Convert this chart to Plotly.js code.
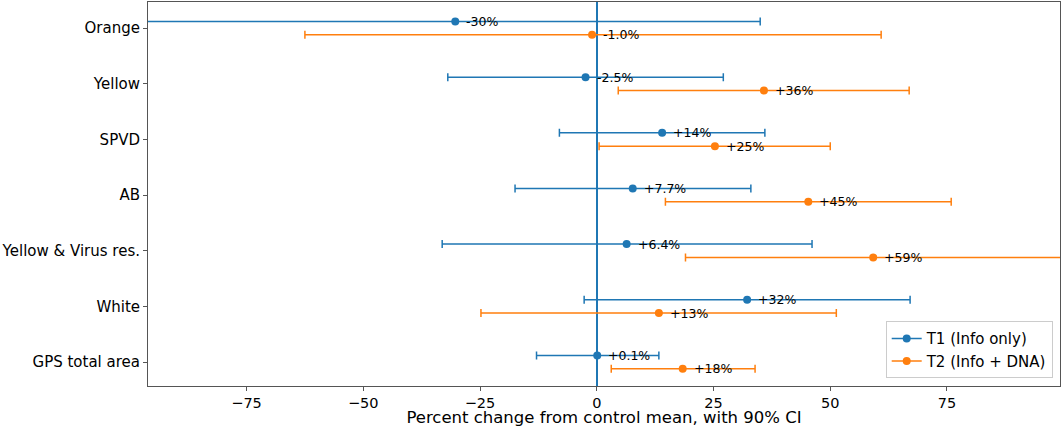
<!DOCTYPE html>
<html>
<head>
<meta charset="utf-8">
<script src="https://cdn.plot.ly/plotly-3.0.1.min.js"></script>
<style>html,body{margin:0;padding:0;background:#fff;}#chart{width:1062px;height:427px;}</style>
</head>
<body>
<div id="chart"></div>
<script>
// Categories, top to bottom
const categories = ["Orange", "Yellow", "SPVD", "AB", "Yellow & Virus res.", "White", "GPS total area"];

// T1 (Info only)
const t1Value = [-30.3, -2.4, 14.0, 7.7, 6.4, 32.2, 0.1];
const t1Lower = [-100, -31.9, -8.0, -17.5, -33.1, -2.7, -12.9];
const t1Upper = [35.0, 27.1, 36.0, 33.0, 46.1, 67.1, 13.3];
const t1Labels = ["-30%", "-2.5%", "+14%", "+7.7%", "+6.4%", "+32%", "+0.1%"];

// T2 (Info + DNA)
const t2Value = [-1.0, 35.8, 25.3, 45.3, 59.2, 13.3, 18.4];
const t2Lower = [-62.5, 4.6, 0.5, 14.7, 19.0, -24.8, 3.1];
const t2Upper = [60.9, 66.9, 50.0, 75.9, 110, 51.3, 33.9];
const t2Labels = ["-1.0%", "+36%", "+25%", "+45%", "+59%", "+13%", "+18%"];

const seriesNames = ["T1 (Info only)", "T2 (Info + DNA)"];
const colors = ["#1f77b4", "#ff7f0e"];
const offsets = [0.12, -0.12];

const n = categories.length;
const basePos = categories.map((c, i) => n - 1 - i);

function makeTrace(vals, lo, hi, k) {
  return {
    type: "scatter",
    mode: "markers",
    x: vals,
    y: basePos.map(p => p + offsets[k]),
    marker: {color: colors[k], size: 8},
    error_x: {
      type: "data", symmetric: false,
      array: vals.map((v, i) => hi[i] - v),
      arrayminus: vals.map((v, i) => v - lo[i]),
      color: colors[k], thickness: 1.5, width: 4
    },
    showlegend: false,
    hoverinfo: "x+y"
  };
}
function legendTrace(k) {
  return {
    type: "scatter", mode: "lines+markers", x: [null], y: [null],
    name: seriesNames[k],
    line: {color: colors[k], width: 1.5},
    marker: {color: colors[k], size: 8}
  };
}
function makeLabels(vals, labels, k) {
  return vals.map((v, i) => ({
    x: v, y: basePos[i] + offsets[k], xref: "x", yref: "y",
    text: labels[i], showarrow: false,
    xanchor: "left", yanchor: "middle", xshift: 9,
    font: {family: "DejaVu Sans", size: 12.5, color: "#000"}
  }));
}

const data = [
  makeTrace(t1Value, t1Lower, t1Upper, 0),
  makeTrace(t2Value, t2Lower, t2Upper, 1),
  legendTrace(0), legendTrace(1)
];

const layout = {
  width: 1062, height: 427,
  margin: {l: 148, r: 2, t: 2, b: 41},
  paper_bgcolor: "#fff", plot_bgcolor: "#fff",
  font: {family: "DejaVu Sans", color: "#000"},
  annotations: makeLabels(t1Value, t1Labels, 0).concat(makeLabels(t2Value, t2Labels, 1)),
  xaxis: {
    range: [-96.1, 99.2],
    tickvals: [-75, -50, -25, 0, 25, 50, 75],
    showgrid: false,
    zeroline: true, zerolinecolor: "#1f77b4", zerolinewidth: 1.5,
    showline: true, linecolor: "#555", linewidth: 1, mirror: true,
    ticks: "outside", ticklen: 4, tickcolor: "#555",
    tickfont: {size: 14.5, color: "#000"},
    title: {text: "Percent change from control mean, with 90% CI", font: {size: 16.5, color: "#000"}, standoff: 5}
  },
  yaxis: {
    range: [-0.43, 6.47],
    tickvals: basePos,
    ticktext: categories,
    showgrid: false, zeroline: false,
    showline: true, linecolor: "#555", linewidth: 1, mirror: true,
    ticks: "outside", ticklen: 4, tickcolor: "#555",
    tickfont: {size: 15, color: "#000"}
  },
  legend: {
    x: 0.992, y: 0.02, xanchor: "right", yanchor: "bottom",
    bgcolor: "#fff", bordercolor: "#ccc", borderwidth: 1,
    font: {size: 15, color: "#000"}
  },
  showlegend: true
};

Plotly.newPlot("chart", data, layout, {staticPlot: true});
</script>
</body>
</html>
